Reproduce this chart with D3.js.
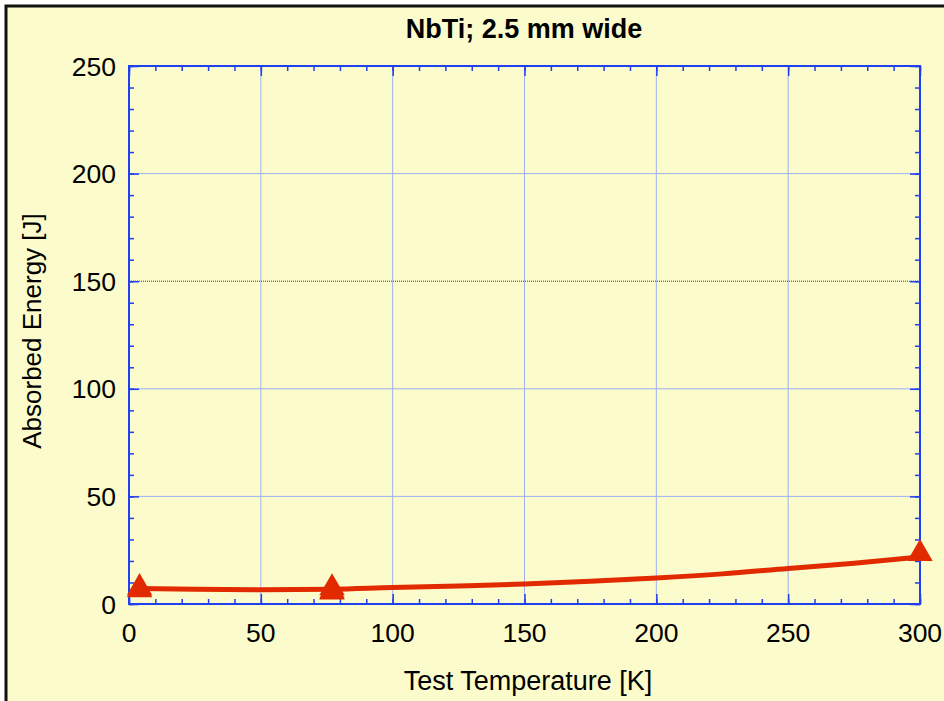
<!DOCTYPE html>
<html><head><meta charset="utf-8">
<script src="https://cdn.jsdelivr.net/npm/d3@7"></script>
<style>html,body{margin:0;padding:0;background:#fff;overflow:hidden}</style>
</head><body>
<script>
// Data
const pointTemps = [4, 4, 77, 77, 77, 300];
const pointEnergy = [6.6, 5.6, 6.5, 5.2, 4.6, 22.5];
const fitTemps = [4, 25, 50, 77, 100, 125, 150, 175, 200, 225, 250, 275, 300];
const fitEnergy = [7.2, 6.8, 6.6, 6.9, 7.7, 8.4, 9.3, 10.6, 12.1, 14.0, 16.5, 18.9, 21.8];
const xTicks = [0, 50, 100, 150, 200, 250, 300];
const yTicks = [0, 50, 100, 150, 200, 250];
const title = "NbTi; 2.5 mm wide";
const xLabel = "Test Temperature [K]";
const yLabel = "Absorbed Energy [J]";

const W = 944, H = 701;
const svg = d3.select("body").append("svg").attr("width", W).attr("height", H);
const font = "'Liberation Sans', Arial, sans-serif";

svg.append("rect").attr("x", 6).attr("y", 6).attr("width", W + 10).attr("height", H + 10)
  .attr("fill", "#fbfbcb").attr("stroke", "#111").attr("stroke-width", 3);

const L = 129, R = 920, T = 66, B = 604;
const x = d3.scaleLinear().domain([0, 300]).range([L, R]);
const y = d3.scaleLinear().domain([0, 250]).range([B, T]);

const axisColor = "#1f3ff0";
const gridColor = "#9fb0f2";

// grid
const g = svg.append("g");
xTicks.slice(1, -1).forEach(t => {
  g.append("line").attr("x1", x(t)).attr("x2", x(t)).attr("y1", T).attr("y2", B)
    .attr("stroke", gridColor).attr("stroke-width", 1);
});
yTicks.slice(1, -1).forEach(t => {
  const dark = t === 150;
  g.append("line").attr("x1", L).attr("x2", R).attr("y1", y(t)).attr("y2", y(t))
    .attr("stroke", dark ? "#2a3a9a" : gridColor).attr("stroke-width", 1)
    .attr("stroke-dasharray", dark ? "1,1" : null);
});

// axes with inward ticks on all four sides
const xMinor = d3.range(0, 301, 10), yMinor = d3.range(0, 251, 10);
function styleAxis(sel) {
  sel.select(".domain").remove();
  sel.selectAll("line").attr("stroke", axisColor).attr("stroke-width", 1.5);
  sel.selectAll("text").remove();
}
svg.append("g").attr("transform", `translate(0,${B})`)
  .call(d3.axisBottom(x).tickValues(xMinor).tickSize(-5).tickFormat("")).call(styleAxis);
svg.append("g").attr("transform", `translate(0,${B})`)
  .call(d3.axisBottom(x).tickValues(xTicks).tickSize(-10).tickFormat("")).call(styleAxis);
svg.append("g").attr("transform", `translate(0,${T})`)
  .call(d3.axisTop(x).tickValues(xMinor).tickSize(-5).tickFormat("")).call(styleAxis);
svg.append("g").attr("transform", `translate(0,${T})`)
  .call(d3.axisTop(x).tickValues(xTicks).tickSize(-10).tickFormat("")).call(styleAxis);
svg.append("g").attr("transform", `translate(${L},0)`)
  .call(d3.axisLeft(y).tickValues(yMinor).tickSize(-5).tickFormat("")).call(styleAxis);
svg.append("g").attr("transform", `translate(${L},0)`)
  .call(d3.axisLeft(y).tickValues(yTicks).tickSize(-10).tickFormat("")).call(styleAxis);
svg.append("g").attr("transform", `translate(${R},0)`)
  .call(d3.axisRight(y).tickValues(yMinor).tickSize(-5).tickFormat("")).call(styleAxis);
svg.append("g").attr("transform", `translate(${R},0)`)
  .call(d3.axisRight(y).tickValues(yTicks).tickSize(-10).tickFormat("")).call(styleAxis);

svg.append("rect").attr("x", L).attr("y", T).attr("width", R - L).attr("height", B - T)
  .attr("fill", "none").attr("stroke", axisColor).attr("stroke-width", 2);

// tick labels
xTicks.forEach(t => {
  svg.append("text").attr("x", x(t)).attr("y", 642).attr("text-anchor", "middle")
    .attr("font-family", font).attr("font-size", 26.5).attr("fill", "#000").text(t);
});
yTicks.forEach(t => {
  svg.append("text").attr("x", 116).attr("y", y(t) + 9.5).attr("text-anchor", "end")
    .attr("font-family", font).attr("font-size", 26.5).attr("fill", "#000").text(t);
});

// titles
svg.append("text").attr("x", 524).attr("y", 38).attr("text-anchor", "middle")
  .attr("font-family", font).attr("font-size", 27).attr("font-weight", "bold").text(title);
svg.append("text").attr("x", 528).attr("y", 690).attr("text-anchor", "middle")
  .attr("font-family", font).attr("font-size", 27).text(xLabel);
svg.append("text").attr("transform", "translate(41,331) rotate(-90)").attr("text-anchor", "middle")
  .attr("font-family", font).attr("font-size", 26).text(yLabel);

// fit curve
const fit = fitTemps.map((t, i) => [t, fitEnergy[i]]);
svg.append("path").datum(fit)
  .attr("d", d3.line().x(d => x(d[0])).y(d => y(d[1])).curve(d3.curveMonotoneX))
  .attr("fill", "none").attr("stroke", "#e22a00").attr("stroke-width", 5);

// points
const sym = d3.symbol().type(d3.symbolTriangle).size(280);
pointTemps.forEach((t, i) => {
  svg.append("path").attr("d", sym())
    .attr("transform", `translate(${x(t)},${y(pointEnergy[i]) - 2})`)
    .attr("fill", "#e22a00");
});
</script>
</body></html>
